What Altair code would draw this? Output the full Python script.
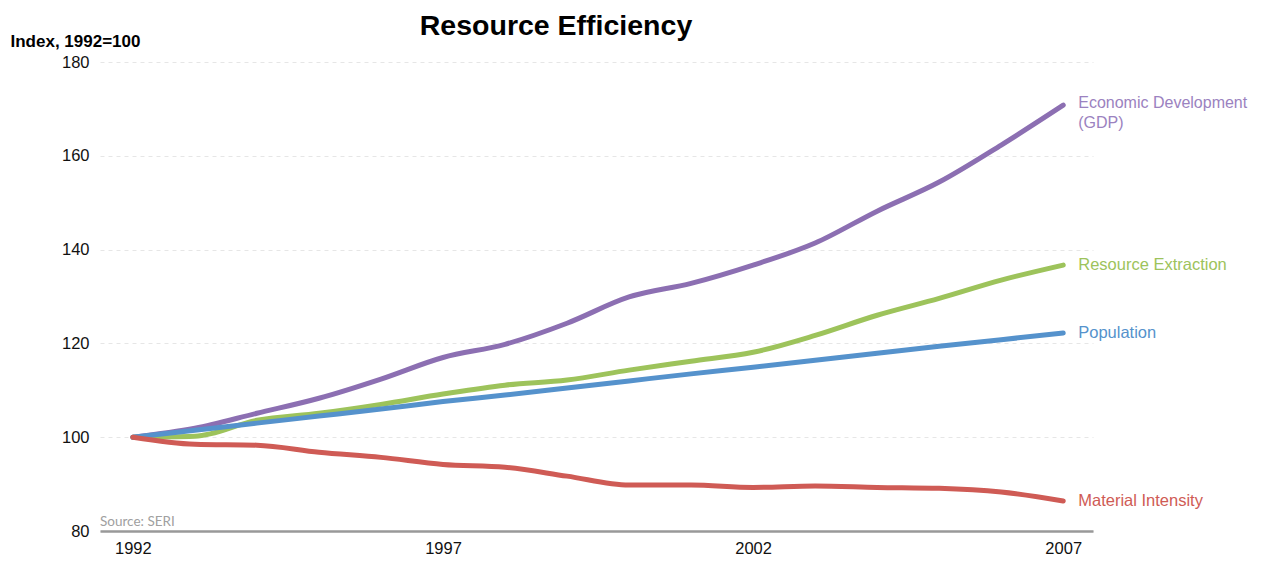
import altair as alt
import pandas as pd

years = list(range(1992, 2008))
gdp = [100, 101.9, 105.1, 108.3, 112.4, 117.0, 119.8, 124.3, 129.9, 132.8, 136.7, 141.4, 148.2, 154.4, 162.3, 170.8]
extraction = [100, 100.2, 103.6, 105.1, 107.0, 109.2, 111.1, 112.2, 114.3, 116.2, 118.1, 121.7, 126.0, 129.6, 133.5, 136.7]
population = [100, 101.5, 103.0, 104.5, 106.0, 107.6, 109.0, 110.5, 112.0, 113.5, 114.9, 116.4, 117.9, 119.4, 120.8, 122.2]
intensity = [100, 98.5, 98.3, 96.8, 95.7, 94.2, 93.6, 91.7, 89.8, 89.8, 89.3, 89.6, 89.3, 89.1, 88.3, 86.4]

series_names = ["Economic Development (GDP)", "Resource Extraction", "Population", "Material Intensity"]
series_values = [gdp, extraction, population, intensity]
colors = ["#8c6fb2", "#9dc35b", "#5592cc", "#cf5b55"]
label_colors = ["#9b82c0", "#a6c96a", "#5f9ad2", "#d4605a"]

rows = []
for name, vals in zip(series_names, series_values):
    for y, v in zip(years, vals):
        rows.append({"year": y, "value": v, "series": name})
df = pd.DataFrame(rows)

x_scale = alt.Scale(domain=[1991.47, 2007.48], nice=False, zero=False)
y_scale = alt.Scale(domain=[80, 180], nice=False, zero=False)
color_scale = alt.Scale(domain=series_names, range=colors)

base = alt.Chart(df)

lines = base.mark_line(strokeWidth=5, interpolate="monotone", strokeCap="round").encode(
    x=alt.X("year:Q", scale=x_scale,
            axis=alt.Axis(values=[1992, 1997, 2002, 2007], format="d", title=None,
                          grid=False, ticks=False, domainColor="#999999", domainWidth=2.5,
                          labelFontSize=16.5, labelColor="#111111", labelPadding=9,
                          labelFont="Liberation Sans")),
    y=alt.Y("value:Q", scale=y_scale,
            axis=alt.Axis(values=[80, 100, 120, 140, 160, 180], title="Index, 1992=100",
                          titleAngle=0, titleX=-90, titleY=-16, titleAlign="left",
                          titleFontSize=17, titleFontWeight="bold", titleFont="Liberation Sans",
                          titleColor="#000000", titleBaseline="alphabetic",
                          domain=False, ticks=False, labelPadding=11, labelFontSize=16.5,
                          labelColor="#111111", labelFont="Liberation Sans",
                          gridColor="#e6e6e6", gridDash=[4, 4], gridWidth=1)),
    color=alt.Color("series:N", scale=color_scale, legend=None),
    detail="series:N",
)

end_df = pd.DataFrame({
    "year": [years[-1]] * 3,
    "value": [extraction[-1], population[-1], intensity[-1]],
    "label": series_names[1:],
})
end_labels = alt.Chart(end_df).mark_text(align="left", baseline="middle", dx=15, fontSize=16.5,
                                         font="Liberation Sans").encode(
    x=alt.X("year:Q", scale=x_scale),
    y=alt.Y("value:Q", scale=y_scale),
    text="label:N",
    color=alt.Color("label:N", scale=alt.Scale(domain=series_names[1:], range=label_colors[1:]), legend=None),
)

gdp_df = pd.DataFrame({"year": [years[-1]], "value": [gdp[-1]], "label": [["Economic Development", "(GDP)"]]})
gdp_label = alt.Chart(gdp_df).mark_text(align="left", baseline="top", dx=15, dy=-10, fontSize=16,
                                        lineHeight=20, font="Liberation Sans",
                                        color=label_colors[0]).encode(
    x=alt.X("year:Q", scale=x_scale),
    y=alt.Y("value:Q", scale=y_scale),
    text="label",
)

source = alt.Chart(pd.DataFrame({"t": ["Source: SERI"]})).mark_text(
    align="left", baseline="alphabetic", fontSize=13.5, color="#a0a0a0", font="Lato"
).encode(x=alt.value(0), y=alt.value(464), text="t:N")

title = alt.Chart(pd.DataFrame({"t": ["Resource Efficiency"]})).mark_text(
    align="center", baseline="middle", fontSize=28.5, fontWeight="bold", color="#000000",
    font="Liberation Sans"
).encode(x=alt.value(456), y=alt.value(-36), text="t:N")

chart = alt.layer(lines, end_labels, gdp_label, source, title).properties(
    width=993,
    height=469,
    padding={"left": 92, "top": 54, "right": 160, "bottom": 28},
    autosize=alt.AutoSizeParams(type="none"),
).configure_view(stroke=None)

chart.save("out.html", embed_options={"renderer": "svg", "actions": False})
